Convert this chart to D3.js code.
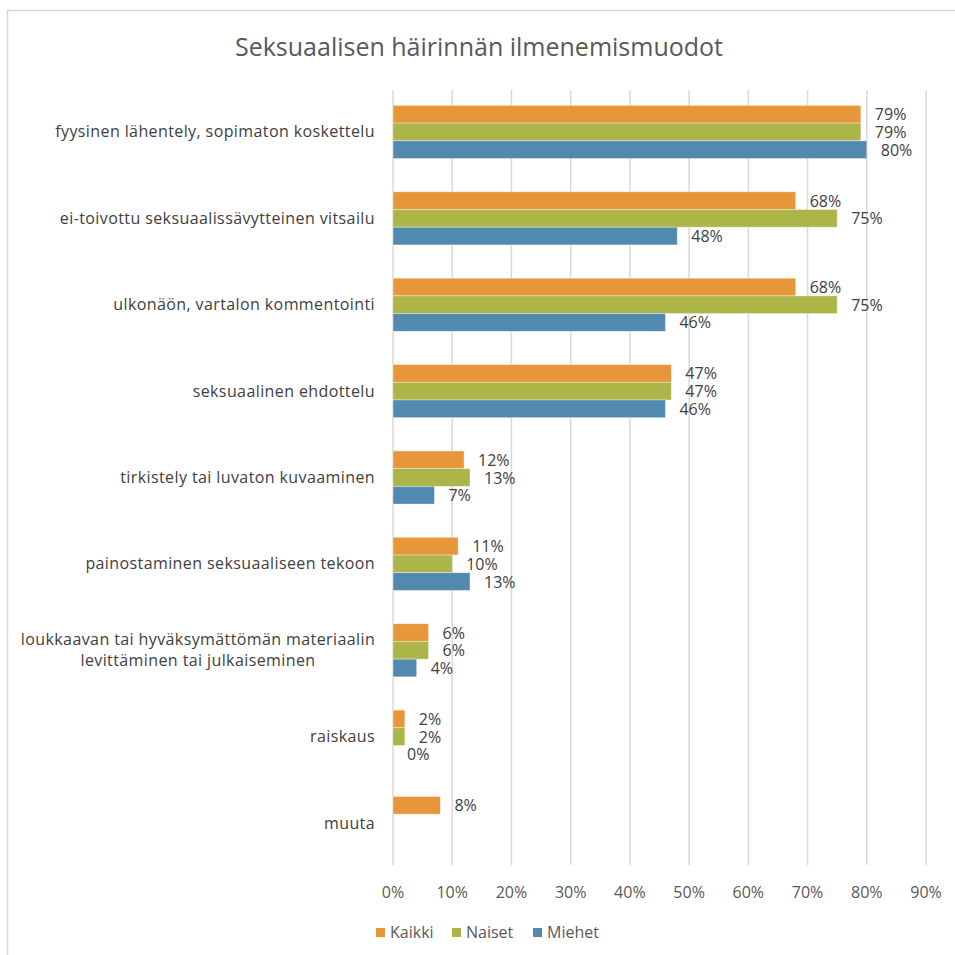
<!DOCTYPE html>
<html>
<head>
<meta charset="utf-8">
<script src="https://cdn.jsdelivr.net/npm/d3@7"></script>
<style>
  body { margin: 0; background: #fff; }
  text { font-family: "Open Sans", "Noto Sans", sans-serif; }
</style>
</head>
<body>
<svg></svg>
<script>
const width = 955;
const height = 955;

// data
const categories = [
    "fyysinen lähentely, sopimaton koskettelu",
    "ei-toivottu seksuaalissävytteinen vitsailu",
    "ulkonäön, vartalon kommentointi",
    "seksuaalinen ehdottelu",
    "tirkistely tai luvaton kuvaaminen",
    "painostaminen seksuaaliseen tekoon",
    "loukkaavan tai hyväksymättömän materiaalin|levittäminen tai julkaiseminen",
    "raiskaus",
    "muuta"
];
const seriesNames = ["Kaikki", "Naiset", "Miehet"];
const kaikki = [79, 68, 68, 47, 12, 11, 6, 2, 8];
const naiset = [79, 75, 75, 47, 13, 10, 6, 2, null];
const miehet = [80, 48, 46, 46, 7, 13, 4, 0, null];
const xTicks = [0, 10, 20, 30, 40, 50, 60, 70, 80, 90];
const colors = ["#E8963A", "#ABB548", "#5289B0"];

const seriesValues = [kaikki, naiset, miehet];

let svg = d3.select("svg").attr("width", width).attr("height", height);

// chart frame
svg.append("path")
    .attr("d", "M7.5,960 V10.5 H960")
    .attr("fill", "none")
    .attr("stroke", "#d9d9d9")
    .attr("stroke-width", 1.5);

// title
svg.append("text")
    .attr("x", 479)
    .attr("y", 56)
    .attr("text-anchor", "middle")
    .style("font-size", "25px")
    .style("fill", "#595959")
    .text("Seksuaalisen häirinnän ilmenemismuodot");

const x = d3.scaleLinear().domain([0, 90]).range([393, 926]);
const y = d3.scaleBand().domain(d3.range(categories.length)).range([89, 866]).paddingInner(0.385).paddingOuter(0.19);
const ySub = d3.scaleBand().domain(d3.range(3)).range([0, y.bandwidth()]);

// gridlines
svg.append("g")
    .selectAll("line")
    .data(xTicks)
    .join("line")
    .attr("x1", (d) => x(d))
    .attr("x2", (d) => x(d))
    .attr("y1", 90)
    .attr("y2", 865)
    .attr("stroke", "#d9d9d9")
    .attr("stroke-width", 1.5);

// x axis labels
svg.append("g")
    .selectAll("text")
    .data(xTicks)
    .join("text")
    .attr("x", (d) => x(d))
    .attr("y", 898)
    .attr("text-anchor", "middle")
    .style("font-size", "16px")
    .style("fill", "#595959")
    .text((d) => d + "%");

// category labels
let catG = svg.append("g");
categories.forEach((c, i) => {
    const lines = c.split("|");
    const cy = y(i) + y.bandwidth() / 2 + 5.5;
    lines.forEach((ln, j) => {
        catG.append("text")
            .attr("x", lines.length > 1 ? 198 : 375)
            .attr("y", cy + (j - (lines.length - 1) / 2) * 21)
            .attr("text-anchor", lines.length > 1 ? "middle" : "end")
            .style("font-size", "16px")
            .style("letter-spacing", "0.4px")
            .style("fill", "#404040")
            .text(ln);
    });
});

// bars
seriesValues.forEach((vals, s) => {
    let g = svg.append("g");
    const data = vals.map((v, i) => ({ v: v, i: i })).filter((d) => d.v !== null);
    g.selectAll("rect")
        .data(data)
        .join("rect")
        .attr("x", x(0))
        .attr("y", (d) => y(d.i) + ySub(s))
        .attr("width", (d) => x(d.v) - x(0))
        .attr("height", ySub.bandwidth())
        .attr("fill", colors[s])
        .attr("stroke", "#ffffff")
        .attr("stroke-opacity", 0.5)
        .attr("stroke-width", 0.75);
    g.selectAll("text")
        .data(data)
        .join("text")
        .attr("x", (d) => x(d.v) + 14)
        .attr("y", (d) => y(d.i) + ySub(s) + ySub.bandwidth() / 2 + 6)
        .style("font-size", "16px")
        .style("fill", "#404040")
        .text((d) => d.v + "%");
});

// legend
const legendX = [376, 452, 533];
let legend = svg.append("g");
seriesNames.forEach((n, i) => {
    legend.append("rect")
        .attr("x", legendX[i])
        .attr("y", 928)
        .attr("width", 9)
        .attr("height", 9)
        .attr("fill", colors[i]);
    legend.append("text")
        .attr("x", legendX[i] + 14)
        .attr("y", 938)
        .style("font-size", "16px")
        .style("fill", "#595959")
        .text(n);
});
</script>
</body>
</html>
